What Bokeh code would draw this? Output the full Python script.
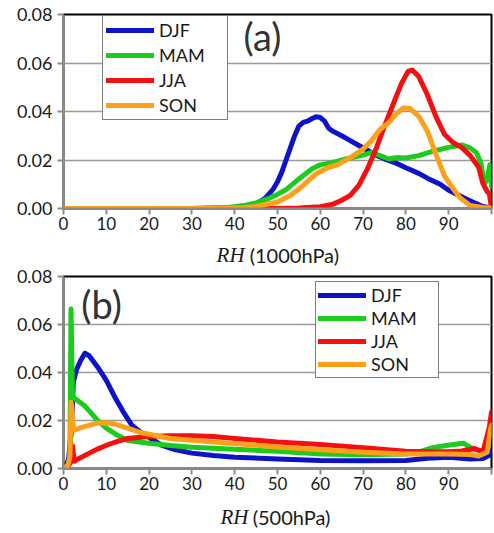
from bokeh.plotting import figure
from bokeh.models import Legend, LegendItem, Label, FixedTicker, NumeralTickFormatter, Range1d
from bokeh.layouts import column
from bokeh.embed import file_html
from bokeh.resources import INLINE

# ---------------- data ----------------
seasons = ["DJF", "MAM", "JJA", "SON"]
colors = ["#0d14c8", "#1ccc1c", "#f41010", "#ffa01a"]
x_ticks = [0, 10, 20, 30, 40, 50, 60, 70, 80, 90, 100]
y_ticks = [0.0, 0.02, 0.04, 0.06, 0.08]

# Panel (a): RH at 1000 hPa
djf_a_x = [0, 30, 40, 43, 45, 47, 49, 50, 51, 52, 53, 54, 55, 56, 57, 58, 59, 60, 61, 62, 63, 65, 67, 69, 71, 73, 75, 78, 80, 83, 85, 88, 90, 92, 94, 96, 98, 100]
djf_a_y = [0, 0, 0.0003, 0.001, 0.002, 0.004, 0.008, 0.011, 0.015, 0.020, 0.025, 0.030, 0.034, 0.0355, 0.036, 0.037, 0.0378, 0.0375, 0.036, 0.033, 0.0318, 0.030, 0.028, 0.026, 0.024, 0.022, 0.0205, 0.0185, 0.0168, 0.0145, 0.0125, 0.010, 0.0075, 0.0058, 0.004, 0.0024, 0.0008, 0.0002]
mam_a_x = [0, 30, 38, 42, 45, 48, 50, 52, 55, 58, 60, 63, 66, 70, 72, 74, 76, 78, 80, 83, 86, 90, 93, 95, 96.5, 97.5, 98.3, 99, 99.6, 100]
mam_a_y = [0, 0, 0.0003, 0.0012, 0.0023, 0.0042, 0.0058, 0.0078, 0.0122, 0.0163, 0.018, 0.019, 0.0204, 0.022, 0.0231, 0.0218, 0.0204, 0.021, 0.0208, 0.0218, 0.0235, 0.0252, 0.0262, 0.025, 0.023, 0.019, 0.010, 0.012, 0.018, 0.009]
jja_a_x = [0, 50, 55, 60, 63, 65, 67, 69, 71, 73, 75, 77, 79, 80.5, 81.5, 83, 85, 87, 89, 91, 93, 95, 97, 98, 99, 99.5, 100]
jja_a_y = [0, 0, 0.0002, 0.0007, 0.0018, 0.0034, 0.0054, 0.0095, 0.0163, 0.0245, 0.034, 0.0429, 0.0517, 0.0565, 0.0571, 0.0544, 0.047, 0.038, 0.0306, 0.0272, 0.0252, 0.0219, 0.017, 0.0103, 0.007, 0.006, 0.0]
son_a_x = [0, 35, 42, 45, 50, 53, 56, 59, 62, 64, 67, 70, 72, 74, 76, 78, 79.5, 81, 83, 85, 87, 88, 89, 90.5, 92.5, 95, 98, 100]
son_a_y = [0, 0, 0.0003, 0.0008, 0.0027, 0.0054, 0.0095, 0.0143, 0.017, 0.018, 0.021, 0.0245, 0.028, 0.0327, 0.0354, 0.0395, 0.0415, 0.0412, 0.038, 0.032, 0.0224, 0.018, 0.0135, 0.0095, 0.0047, 0.0012, 0.0004, 0.0002]

# Panel (b): RH at 500 hPa
djf_b_x = [0, 0.5, 1.2, 1.8, 2.3, 3, 4, 5, 6, 8, 10, 12, 14, 16, 18, 20, 23, 26, 30, 35, 40, 50, 60, 70, 80, 85, 90, 95, 98, 99.5, 100]
djf_b_y = [0, 0.001, 0.004, 0.015, 0.036, 0.041, 0.045, 0.048, 0.047, 0.0422, 0.0367, 0.0297, 0.0235, 0.018, 0.0151, 0.013, 0.0096, 0.0079, 0.0064, 0.0054, 0.0047, 0.004, 0.0033, 0.0032, 0.0033, 0.0043, 0.0047, 0.004, 0.0042, 0.0055, 0.0075]
mam_b_x = [0, 1, 1.5, 1.75, 2.1, 3, 3.5, 5, 6, 8, 10, 12, 15, 20, 25, 30, 40, 50, 60, 70, 80, 83, 86, 89, 92, 93.5, 95, 97, 98, 99, 99.6, 100]
mam_b_y = [0, 0.001, 0.005, 0.0665, 0.030, 0.0288, 0.028, 0.026, 0.024, 0.020, 0.0168, 0.0145, 0.0117, 0.0105, 0.0096, 0.0089, 0.008, 0.0072, 0.006, 0.0057, 0.006, 0.0068, 0.0086, 0.0095, 0.0102, 0.0105, 0.0088, 0.0075, 0.0068, 0.0082, 0.0156, 0.019]
jja_b_x = [0, 1, 1.8, 2.1, 2.5, 3.5, 5.8, 8.2, 10.5, 12.8, 15, 20, 25, 30, 35, 40, 50, 60, 70, 80, 85, 90, 93, 96, 98, 99.5, 100]
jja_b_y = [0, 0.0005, 0.003, 0.0095, 0.003, 0.0041, 0.0062, 0.0083, 0.010, 0.0114, 0.0125, 0.0133, 0.0136, 0.0136, 0.0133, 0.0125, 0.011, 0.010, 0.0087, 0.0072, 0.007, 0.007, 0.0073, 0.0083, 0.007, 0.0172, 0.0235]
son_b_x = [0, 1, 1.5, 1.8, 2.1, 2.5, 4, 6, 8, 10, 12, 15, 18, 20, 25, 30, 35, 40, 50, 60, 70, 80, 90, 95, 97, 99, 99.7, 100]
son_b_y = [0.0005, 0.001, 0.005, 0.0276, 0.020, 0.016, 0.017, 0.018, 0.019, 0.019, 0.0185, 0.0168, 0.015, 0.0143, 0.0125, 0.0118, 0.011, 0.0104, 0.009, 0.0078, 0.0068, 0.006, 0.006, 0.0058, 0.0052, 0.0068, 0.0156, 0.018]

panel_a = [(djf_a_x, djf_a_y), (mam_a_x, mam_a_y), (jja_a_x, jja_a_y), (son_a_x, son_a_y)]
panel_b = [(djf_b_x, djf_b_y), (mam_b_x, mam_b_y), (jja_b_x, jja_b_y), (son_b_x, son_b_y)]

FONT = "Lato"
W = 494
LEFT = 63
RIGHT = 3


def make_panel(series, height, top, frame_h, tag, tag_xy, leg):
    p = figure(width=W, height=height, x_range=Range1d(0, 100), y_range=Range1d(0, 0.08),
               output_backend="svg", toolbar_location=None,
               min_border_left=LEFT, min_border_right=RIGHT, min_border_top=top,
               min_border_bottom=height - top - frame_h)
    p.background_fill_color = "white"
    p.border_fill_color = "white"
    p.outline_line_color = "black"
    p.outline_line_width = 2
    p.xgrid.visible = False
    p.ygrid.grid_line_color = "#9a9a9a"
    p.ygrid.grid_line_width = 1.5
    xa = p.xaxis[0]
    xa.ticker = FixedTicker(ticks=x_ticks)
    xa.major_label_overrides = {100: ""}
    ya = p.yaxis[0]
    ya.ticker = FixedTicker(ticks=y_ticks)
    ya.formatter = NumeralTickFormatter(format="0.00")
    for ax, fs in ((xa, "17px"), (ya, "18px")):
        ax.axis_line_color = "#8c8c8c"
        ax.axis_line_width = 2
        ax.major_tick_line_color = "#8c8c8c"
        ax.major_tick_line_width = 2
        ax.major_tick_in = 0
        ax.major_tick_out = 6
        ax.minor_tick_line_color = None
        ax.major_label_text_font = FONT
        ax.major_label_text_font_size = fs
        ax.major_label_text_color = "#1a1a1a"
    xa.major_label_standoff = 2
    ya.major_label_standoff = 5
    renderers = []
    for (xs, ys), c in zip(series, colors):
        r = p.line(xs, ys, line_color=c, line_width=5, line_cap="round", line_join="round")
        renderers.append(r)
    items = [LegendItem(label=s, renderers=[r]) for s, r in zip(seasons, renderers)]
    legend = Legend(items=items, location=leg["loc"], padding=leg["pad"], spacing=leg["spacing"],
                    glyph_width=48, glyph_height=20, label_standoff=5, label_width=leg["lw"],
                    label_height=20, label_text_font=FONT, label_text_font_size="18px",
                    label_text_color="#1a1a1a", border_line_color="black", border_line_width=1.5,
                    background_fill_color="white", background_fill_alpha=1.0, margin=0)
    p.add_layout(legend)
    p.add_layout(Label(x=tag_xy[0], y=tag_xy[1], text=tag, text_font=FONT, text_font_size="38px",
                       text_color="#333333", text_align="center", text_baseline="middle"))
    return p


def make_title_strip(height, level, rh_right, paren_left, base_frac):
    s = figure(width=W, height=height, x_range=Range1d(0, 100), y_range=Range1d(0, 1),
               output_backend="svg", toolbar_location=None,
               x_axis_location=None, y_axis_location=None,
               min_border_left=LEFT, min_border_right=RIGHT, min_border_top=0, min_border_bottom=0)
    s.outline_line_color = None
    s.background_fill_color = "white"
    s.border_fill_color = "white"
    s.grid.visible = False
    s.add_layout(Label(x=rh_right, y=base_frac, text="RH", text_font="Liberation Serif",
                       text_font_style="italic", text_font_size="21px", text_color="#1a1a1a",
                       text_align="right", text_baseline="alphabetic"))
    s.add_layout(Label(x=paren_left, y=base_frac, text="(" + level + ")", text_font=FONT,
                       text_font_size="20px", text_color="#1a1a1a",
                       text_align="left", text_baseline="alphabetic"))
    return s


pa = make_panel(panel_a, 237, 14, 194, "(a)", (46.5, 0.0712),
                {"loc": (39, 88), "pad": 3, "spacing": 3, "lw": 65})
ta = make_title_strip(29, "1000hPa", 42.3, 43.5, 11.5 / 29)
pb = make_panel(panel_b, 232, 10, 192, "(b)", (8.9, 0.0687),
                {"loc": (252, 90), "pad": 2, "spacing": 1, "lw": 65})
tb = make_title_strip(32, "500hPa", 43.2, 44.2, 13.5 / 32)

layout = column(pa, ta, pb, tb, spacing=0)
open("out.html", "w").write(file_html(layout, INLINE))
